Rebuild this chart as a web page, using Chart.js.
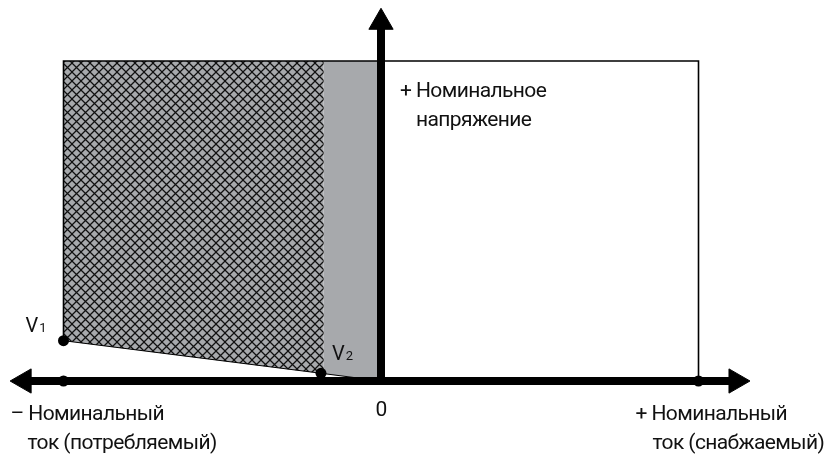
<!DOCTYPE html>
<html><head><meta charset="utf-8">
<script src="https://cdn.jsdelivr.net/npm/chart.js@4.4.1/dist/chart.umd.min.js"></script>
<style>html,body{margin:0;padding:0;background:#fff}#wrap{width:837px;height:454px;position:relative}</style>
</head><body><div id="wrap"><canvas id="c"></canvas></div>
<script>
// ---- data (normalised: nominal current = ±1, nominal voltage = 1) ----
const nominalCurrent = [-1, 1];
const nominalVoltage = 1;
const hatchX = [-1, -0.18];        // region V1 .. V2 (hatched)
const hatchBottom = [0.126, 0.023];
const solidX = [-0.18, 0];         // region V2 .. 0 (solid grey)
const solidBottom = [0.023, 0];
const markerX = [-1, -0.189, -1, 1];
const markerY = [0.126, 0.024, 0, 0];
const axisX = [-1.124, 1.118];     // horizontal axis arrow ends
const axisYTop = 1.121;            // vertical axis arrow end
const labelLeft = ['– Номинальный', 'ток (потребляемый)'];
const labelRight = ['+ Номинальный', 'ток (снабжаемый)'];
const labelTop = ['+ Номинальное', 'напряжение'];
const zeroLabel = '0';
const pointLabels = [['V', '1'], ['V', '2']];

const GREY = '#a7a9ac';
const FONT = 'Roboto';
function makeHatch() {
  const s = 9, c = document.createElement('canvas');
  c.width = s; c.height = s;
  const g = c.getContext('2d');
  g.fillStyle = GREY; g.fillRect(0, 0, s, s);
  g.strokeStyle = '#111'; g.lineWidth = 1.25;
  g.beginPath();
  g.moveTo(-1, -1); g.lineTo(s + 1, s + 1);
  g.moveTo(s + 1, -1); g.lineTo(-1, s + 1);
  g.stroke();
  return g.createPattern(c, 'repeat');
}
const pts = (xs, ys) => xs.map((x, i) => ({x, y: ys[i]}));
const flat = (xs, v) => xs.map(x => ({x, y: v}));
const base = {pointRadius: 0, borderWidth: 0, pointBorderWidth: 0, tension: 0, clip: false};

const datasets = [
  Object.assign({}, base, {data: flat(hatchX, nominalVoltage), fill: 1, backgroundColor: makeHatch(), order: 6}),
  Object.assign({}, base, {data: pts(hatchX, hatchBottom), borderColor: '#000', borderWidth: 1, order: 4}),
  Object.assign({}, base, {data: flat(solidX, nominalVoltage), fill: 3, backgroundColor: GREY, order: 6}),
  Object.assign({}, base, {data: pts(solidX, solidBottom), borderColor: '#000', borderWidth: 1, order: 4}),
  Object.assign({}, base, {data: [
      {x: nominalCurrent[0], y: hatchBottom[0]}, {x: nominalCurrent[0], y: nominalVoltage},
      {x: nominalCurrent[1], y: nominalVoltage}, {x: nominalCurrent[1], y: 0}],
    borderColor: '#000', borderWidth: 1.6, order: 3}),
  Object.assign({}, base, {data: [{x: axisX[0], y: 0}, {x: axisX[1], y: 0}], borderColor: '#000', borderWidth: 8,
    pointStyle: 'triangle', pointRadius: 14, pointBorderWidth: 1, pointRotation: [-90, 90],
    pointBackgroundColor: '#000', pointBorderColor: '#000', order: 1}),
  Object.assign({}, base, {data: [{x: 0, y: 0}, {x: 0, y: axisYTop}], borderColor: '#000', borderWidth: 8,
    pointStyle: 'triangle', pointRadius: [0, 14], pointBorderWidth: 1, pointRotation: 0,
    pointBackgroundColor: '#000', pointBorderColor: '#000', order: 1}),
  Object.assign({}, base, {data: pts(markerX, markerY), showLine: false, pointRadius: 5.5, pointStyle: 'circle',
    pointBackgroundColor: '#000', pointBorderColor: '#000', order: 0})
];

const textPlugin = {
  id: 'texts',
  afterDatasetsDraw(chart) {
    const {ctx, scales: {x, y}} = chart;
    const px = v => x.getPixelForValue(v), py = v => y.getPixelForValue(v);
    ctx.save();
    ctx.fillStyle = '#111';
    ctx.textBaseline = 'alphabetic';
    ctx.font = '21px ' + FONT;
    if ('letterSpacing' in ctx) ctx.letterSpacing = '-0.6px';
    ctx.textAlign = 'left';
    const x0 = px(0), y0 = py(0), yTop = py(nominalVoltage);
    const xl = px(nominalCurrent[0]), xr = px(nominalCurrent[1]);
    ctx.fillText(labelLeft[0], xl - 53, y0 + 39);
    ctx.fillText(labelLeft[1], xl - 36, y0 + 68);
    ctx.fillText(labelRight[0], xr - 63, y0 + 39);
    ctx.fillText(labelRight[1], xr - 46, y0 + 68);
    ctx.fillText(labelTop[0], x0 + 19, yTop + 36);
    ctx.fillText(labelTop[1], x0 + 35, yTop + 65);
    ctx.textAlign = 'center';
    ctx.fillText(zeroLabel, x0, y0 + 35);
    ctx.textAlign = 'left';
    if ('letterSpacing' in ctx) ctx.letterSpacing = '0px';
    const drawV = (lab, xx, yy) => {
      ctx.font = '20px ' + FONT;
      ctx.fillText(lab[0], xx, yy);
      const w = ctx.measureText(lab[0]).width;
      ctx.font = '13px ' + FONT;
      ctx.fillText(lab[1], xx + w + 1, yy);
    };
    drawV(pointLabels[0], px(markerX[0]) - 38, py(markerY[0]) - 9);
    drawV(pointLabels[1], px(markerX[1]) + 11, py(markerY[1]) - 13);
    ctx.restore();
  }
};

new Chart(document.getElementById('c'), {
  type: 'line',
  data: {datasets},
  options: {
    responsive: true, maintainAspectRatio: false, animation: false,
    layout: {padding: 0, autoPadding: false},
    events: [],
    plugins: {legend: {display: false}, tooltip: {enabled: false}, filler: {propagate: false}},
    scales: {
      x: {type: 'linear', display: false, min: -1.2, max: 1.4362},
      y: {type: 'linear', display: false, min: -0.228125, max: 1.190625}
    }
  },
  plugins: [textPlugin]
});
</script>
</body></html>
